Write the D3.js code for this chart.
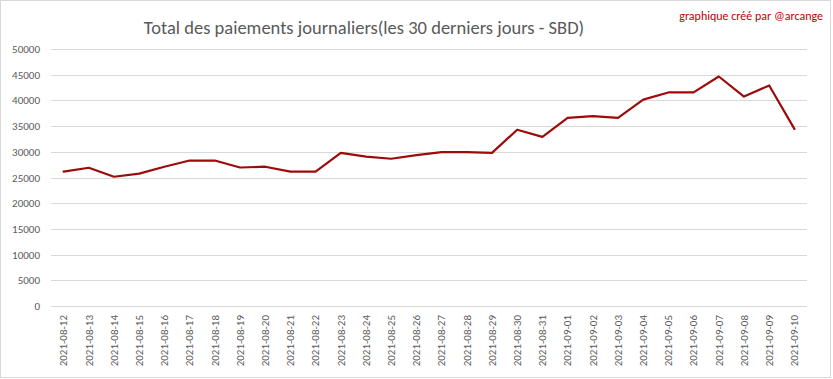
<!DOCTYPE html>
<html><head><meta charset="utf-8">
<script src="https://cdn.jsdelivr.net/npm/d3@7"></script>
<style>html,body{margin:0;padding:0;background:#fff;}</style>
</head><body>
<svg id="c" width="833" height="379"></svg>
<script>
const dates = ["2021-08-12","2021-08-13","2021-08-14","2021-08-15","2021-08-16","2021-08-17","2021-08-18","2021-08-19","2021-08-20","2021-08-21","2021-08-22","2021-08-23","2021-08-24","2021-08-25","2021-08-26","2021-08-27","2021-08-28","2021-08-29","2021-08-30","2021-08-31","2021-09-01","2021-09-02","2021-09-03","2021-09-04","2021-09-05","2021-09-06","2021-09-07","2021-09-08","2021-09-09","2021-09-10"];
const payments = [26150,26900,25150,25750,27100,28300,28300,26950,27100,26150,26150,29800,29050,28650,29350,29950,29950,29800,34300,32900,36600,36950,36600,40150,41550,41550,44650,40750,42900,34450];
const yTicks = [0,5000,10000,15000,20000,25000,30000,35000,40000,45000,50000];
const titleText = "Total des paiements journaliers(les 30 derniers jours - SBD)";
const creditText = "graphique créé par @arcange";

const svg = d3.select("#c");
const W = 833, H = 379;
const font = "Carlito, 'Open Sans', 'Liberation Sans', sans-serif";
svg.append("rect").attr("x",0.5).attr("y",0.5).attr("width",W-3).attr("height",H-2)
  .attr("fill","#fff").attr("stroke","#d9d9d9");

const m = {left:51, right:807, top:49, bottom:306};
const x = d3.scaleBand().domain(dates).range([m.left, m.right]);
const y = d3.scaleLinear().domain([0,50000]).range([m.bottom, m.top]);

const grid = svg.append("g");
grid.selectAll("line").data(yTicks).join("line")
  .attr("x1",m.left).attr("x2",m.right)
  .attr("y1",d=>Math.round(y(d))+0.5).attr("y2",d=>Math.round(y(d))+0.5)
  .attr("stroke","#d9d9d9").attr("stroke-width",1);

const yAxis = svg.append("g").attr("transform",`translate(${m.left},0)`)
  .call(d3.axisLeft(y).tickValues(yTicks).tickSize(0).tickPadding(11).tickFormat(d3.format("d")));
yAxis.select(".domain").remove();
yAxis.selectAll("text").attr("fill","#595959").style("font-family",font).style("font-size","11px");

const xAxis = svg.append("g").attr("transform",`translate(0,${m.bottom})`)
  .call(d3.axisBottom(x).tickSize(0).tickPadding(0));
xAxis.select(".domain").remove();
xAxis.selectAll("text")
  .attr("transform","rotate(-90)")
  .attr("x",-9).attr("y",0).attr("dy","0.35em")
  .attr("text-anchor","end")
  .attr("fill","#595959").style("font-family",font).style("font-size","11px");

const line = d3.line().x((d,i)=>x(dates[i])+x.bandwidth()/2).y(d=>y(d));
svg.append("path").datum(payments).attr("d",line)
  .attr("fill","none").attr("stroke","#9e0a0a").attr("stroke-width",2.2)
  .attr("stroke-linejoin","round").attr("stroke-linecap","round");

svg.append("text").attr("x",364).attr("y",34).attr("text-anchor","middle")
  .attr("fill","#595959").style("font-family",font).style("font-size","18.5px").text(titleText);
svg.append("text").attr("x",823).attr("y",20).attr("text-anchor","end")
  .attr("fill","#c00000").style("font-family",font).style("font-size","12px").text(creditText);
</script>
</body></html>
